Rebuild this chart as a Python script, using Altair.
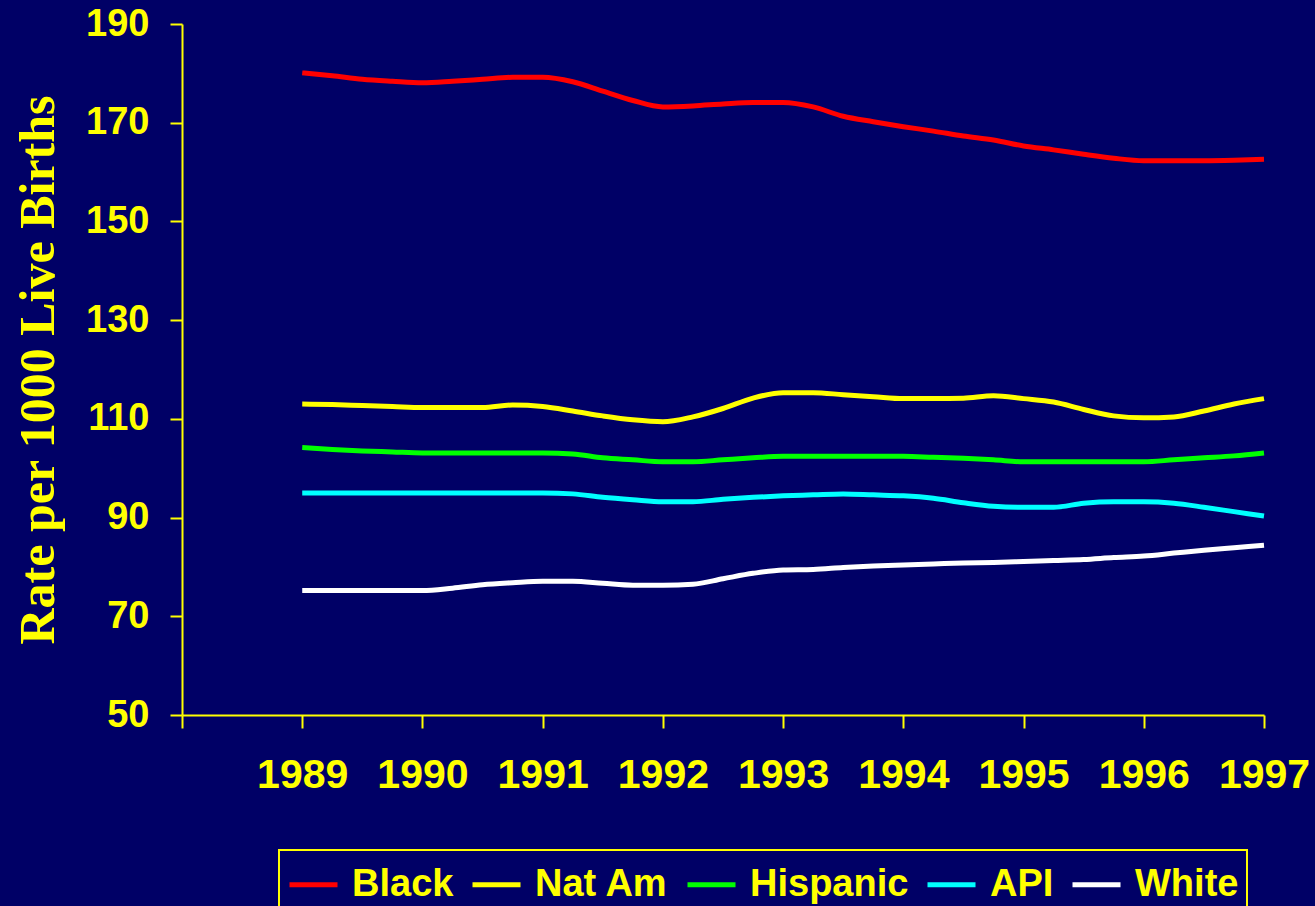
import altair as alt
import pandas as pd

# Quarterly rates per 1000 live births, 1989-1997
quarters = [1989 + i * 0.25 for i in range(33)]

black = [180.1, 179.5, 178.8, 178.4, 178.1, 178.4, 178.8, 179.2,
         179.2, 178.3, 176.4, 174.5, 173.2, 173.4, 173.8, 174.1,
         174.1, 173.2, 171.3, 170.2, 169.2, 168.3, 167.3, 166.5,
         165.3, 164.5, 163.6, 162.8, 162.3, 162.3, 162.3, 162.4, 162.6]
nat_am = [113.0, 112.9, 112.7, 112.5, 112.3, 112.3, 112.3, 112.8,
          112.5, 111.6, 110.6, 109.8, 109.4, 110.4, 112.1, 114.2,
          115.3, 115.3, 114.9, 114.5, 114.1, 114.1, 114.2, 114.7,
          114.1, 113.4, 111.9, 110.6, 110.2, 110.4, 111.6, 113.0, 114.1]
hispanic = [104.2, 103.8, 103.5, 103.3, 103.1, 103.1, 103.1, 103.1,
            103.1, 102.9, 102.1, 101.7, 101.3, 101.3, 101.7, 102.1,
            102.4, 102.4, 102.4, 102.4, 102.4, 102.2, 102.0, 101.7,
            101.3, 101.3, 101.3, 101.3, 101.3, 101.7, 102.1, 102.5, 103.1]
api = [95.0, 95.0, 95.0, 95.0, 95.0, 95.0, 95.0, 95.0,
       95.0, 94.8, 94.1, 93.6, 93.2, 93.2, 93.7, 94.1,
       94.4, 94.6, 94.8, 94.6, 94.4, 93.9, 93.0, 92.3,
       92.1, 92.1, 92.9, 93.2, 93.2, 92.9, 92.1, 91.2, 90.3]
white = [75.2, 75.2, 75.2, 75.2, 75.2, 75.7, 76.4, 76.8,
         77.1, 77.1, 76.7, 76.3, 76.3, 76.5, 77.6, 78.7,
         79.4, 79.5, 79.9, 80.2, 80.4, 80.6, 80.8, 80.9,
         81.1, 81.3, 81.5, 81.9, 82.2, 82.8, 83.4, 83.9, 84.4]

groups = ["Black", "Nat Am", "Hispanic", "API", "White"]
colors = ["#FF0000", "#FFFF00", "#00FF00", "#00FFFF", "#FFFFFF"]
series = [black, nat_am, hispanic, api, white]

year_ticks = list(range(1988, 1998))
rate_ticks = list(range(50, 191, 20))

rows = []
for name, values in zip(groups, series):
    for q, v in zip(quarters, values):
        rows.append({"Year": q, "Rate": v, "Group": name})
df = pd.DataFrame(rows)

YELLOW = "#FFFF00"
NAVY = "#000066"

chart = (
    alt.Chart(df)
    .mark_line(strokeWidth=5, interpolate="monotone")
    .encode(
        x=alt.X(
            "Year:Q",
            scale=alt.Scale(domain=[1988, 1997], nice=False, zero=False),
            axis=alt.Axis(
                title="",
                values=year_ticks,
                format="d",
                labelExpr="datum.value == 1988 ? '' : datum.label",
                labelFont="Liberation Sans",
                labelFontWeight="bold",
                labelFontSize=41,
                labelColor=YELLOW,
                labelPadding=27,
                labelFlush=False,
                labelOverlap=False,
                labelBound=False,
                tickSize=13,
                tickWidth=2,
                tickColor=YELLOW,
                domainColor=YELLOW,
                domainWidth=2,
                grid=False,
            ),
        ),
        y=alt.Y(
            "Rate:Q",
            scale=alt.Scale(domain=[50, 190], nice=False, zero=False),
            axis=alt.Axis(
                title="Rate per 1000 Live Births",
                titleFont="Liberation Serif",
                titleFontWeight="bold",
                titleFontSize=50,
                titleColor=YELLOW,
                titleAngle=270,
                titleAlign="center",
                titleBaseline="alphabetic",
                titleX=-129,
                titleY=345.5,
                values=rate_ticks,
                labelFont="Liberation Sans",
                labelFontWeight="bold",
                labelFontSize=38,
                labelColor=YELLOW,
                labelPadding=21,
                labelFlush=False,
                labelOverlap=False,
                tickSize=12,
                tickWidth=2,
                tickColor=YELLOW,
                domainColor=YELLOW,
                domainWidth=2,
                grid=False,
            ),
        ),
        color=alt.Color(
            "Group:N",
            sort=groups,
            scale=alt.Scale(domain=groups, range=colors),
            legend=alt.Legend(
                title=None,
                orient="none",
                legendX=97,
                legendY=826,
                direction="horizontal",
                padding=8,
                strokeColor=YELLOW,
                fillColor=NAVY,
                symbolType="stroke",
                symbolSize=2304,
                symbolStrokeWidth=5,
                labelFont="Liberation Sans",
                labelFontWeight="bold",
                labelFontSize=38,
                labelColor=YELLOW,
                labelOffset=12,
                labelLimit=400,
                columnPadding=8,
            ),
        ),
    )
    .properties(
        width=1082,
        height=691,
        autosize=alt.AutoSizeParams(type="none"),
        padding={"left": 182, "top": 24, "right": 51, "bottom": 191},
    )
    .configure(background=NAVY)
    .configure_view(strokeWidth=0)
    .configure_legend(strokeWidth=2)
)

chart.save("out.html", embed_options={"renderer": "svg", "actions": False})
